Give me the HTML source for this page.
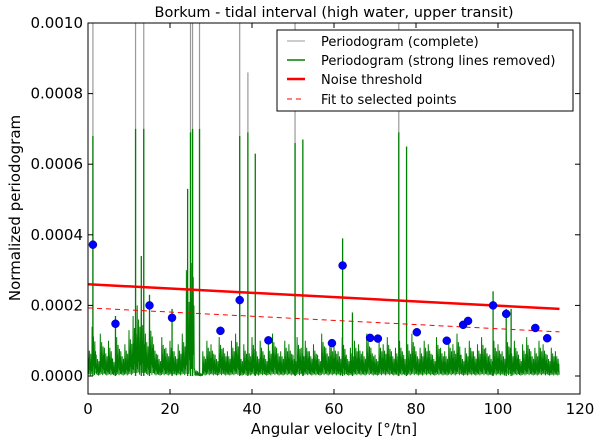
<!DOCTYPE html>
<html><head><meta charset="utf-8"><style>
body{margin:0;background:#fff;font-family:"DejaVu Sans","Liberation Sans",sans-serif;}
svg text{font-family:"DejaVu Sans","Liberation Sans",sans-serif;}
</style></head><body>
<svg id="chart" width="600" height="441" viewBox="0 0 600 441">
<defs><clipPath id="clip"><rect x="88" y="23" width="492" height="371"/></clipPath></defs>
<rect width="600" height="441" fill="#fff"/>
<text x="334" y="17" text-anchor="middle" font-size="14.5">Borkum - tidal interval (high water, upper transit)</text>
<g id="plot" clip-path="url(#clip)"></g>
<rect x="88" y="23" width="492" height="371" fill="none" stroke="#000" stroke-width="1"/>
<g id="axes"></g>
<text x="334" y="434" text-anchor="middle" font-size="15">Angular velocity [°/tn]</text>
<text transform="translate(20,208) rotate(-90)" text-anchor="middle" font-size="15">Normalized periodogram</text>
<g>
<rect x="277" y="30" width="296" height="81" fill="#fff" stroke="#000" stroke-width="1"/>
<line x1="287" y1="41" x2="305" y2="41" stroke="#999" stroke-width="1"/>
<text x="321" y="46" font-size="13">Periodogram (complete)</text>
<line x1="287" y1="60" x2="305" y2="60" stroke="#008000" stroke-width="1.5"/>
<text x="321" y="65" font-size="13">Periodogram (strong lines removed)</text>
<line x1="287" y1="79" x2="305" y2="79" stroke="#f00" stroke-width="2.5"/>
<text x="321" y="84" font-size="13">Noise threshold</text>
<line x1="287" y1="99" x2="305" y2="99" stroke="#f00" stroke-width="1" stroke-dasharray="5,4"/>
<text x="321" y="104" font-size="13">Fit to selected points</text>
</g>
</svg>
<script>
// data (periodogram in units of 1e-5)
const noise = [9,14,6,12,8,10,5,11,7,9,13,17,20,18,12,16,9,6,11,8,10,7,9,12,30,40,2,1,7,10,9,6,11,8,7,10,12,6,9,8,11,7,10,6,9,12,8,7,10,9,6,11,8,10,7,9,6,12,8,10,9,7,11,6,8,10,9,7,12,8,6,10,9,11,7,8,10,6,9,12,7,8,10,9,6,11,8,7,10,9,12,6,8,10,7,9,11,8,6,10,9,7,12,8,10,6,9,11,7,8,10,9,6,8,7];
const greenSpikeX = [1.2,11.6,13.0,13.6,24.3,25.0,25.5,27.2,37.0,39.0,40.8,50.5,52.4,62.1,64.5,75.8,77.7,98.8,102,103.2,6.7,15,20.5];
const greenSpikeY = [68,70,34,70,53,69,70,70,68,69,63,66,67,39,18,69,65,24,19,19,17,23,19];
const graySpikeX = [1.2,11.6,13.6,25.0,25.5,27.2,37.0,39.0,50.5,75.8];
const graySpikeY = [200,200,200,200,200,200,200,86,200,200];
const pointX = [1.2,6.7,15,20.5,32.3,37,44,59.5,62.1,68.8,70.7,80.2,87.5,91.5,92.7,98.8,102,109.1,112];
const pointY = [37.2,14.8,20,16.5,12.8,21.5,10.1,9.3,31.3,10.8,10.6,12.4,10,14.5,15.6,20,17.6,13.6,10.7];
const threshold = [26, 19];
const fitLine = [19.3, 12.5];
const lineRange = [0, 115];
const xTicks = [0,20,40,60,80,100,120];
const yTicks = [0,20,40,60,80,100];
const yTickLabels = ["0.0000","0.0002","0.0004","0.0006","0.0008","0.0010"];

const X = v => 88 + v*492/120;
const Y = v => 376 - v*353/100;
const NS="http://www.w3.org/2000/svg";
const plot=document.getElementById('plot'), axes=document.getElementById('axes');
function mk(tag,attrs,parent){const e=document.createElementNS(NS,tag);for(const k in attrs)e.setAttribute(k,attrs[k]);parent.appendChild(e);return e;}

graySpikeX.forEach((x,i)=>{
  const l=mk('line',{x1:X(x),x2:X(x),y1:Y(0),y2:Y(graySpikeY[i]),stroke:'#999','stroke-width':1.2},plot);
  
  
});
// green noise: dense zigzag shaped from each noise value
const shape=[1,0.1,0.55,0.05,0.8,0.2,0.4,0.02,0.7,0.15,0.5,0.05];
let pts=[];
noise.forEach((v,i)=>{shape.forEach((s,k)=>{pts.push(X(i+k/shape.length)+','+Y(v*s));});});
const pl=mk('polyline',{points:pts.join(' '),fill:'none',stroke:'#008000','stroke-width':1},plot);


greenSpikeX.forEach((x,i)=>{
  const l=mk('line',{x1:X(x),x2:X(x),y1:Y(0),y2:Y(greenSpikeY[i]),stroke:'#008000','stroke-width':1.3},plot);
  
  
});
const t=mk('line',{x1:X(lineRange[0]),x2:X(lineRange[1]),y1:Y(threshold[0]),y2:Y(threshold[1]),stroke:'#f00','stroke-width':2.5},plot);


const f=mk('line',{x1:X(lineRange[0]),x2:X(lineRange[1]),y1:Y(fitLine[0]),y2:Y(fitLine[1]),stroke:'#f00','stroke-width':1,'stroke-dasharray':'5,4'},plot);


pointX.forEach((x,i)=>{
  const c=mk('circle',{cx:X(x),cy:Y(pointY[i]),r:4,fill:'#0000ff',stroke:'#00008b','stroke-width':0.5},plot);
  
  
});
xTicks.forEach(v=>{
  mk('line',{x1:X(v),x2:X(v),y1:394,y2:389,stroke:'#000'},axes);
  mk('line',{x1:X(v),x2:X(v),y1:23,y2:28,stroke:'#000'},axes);
  const tx=mk('text',{x:X(v),y:414,'text-anchor':'middle','font-size':15},axes);
  tx.textContent=v;
  
  
});
yTicks.forEach((v,i)=>{
  mk('line',{x1:88,x2:93,y1:Y(v),y2:Y(v),stroke:'#000'},axes);
  mk('line',{x1:580,x2:575,y1:Y(v),y2:Y(v),stroke:'#000'},axes);
  const tx=mk('text',{x:83,y:Y(v)+5,'text-anchor':'end','font-size':15},axes);
  tx.textContent=yTickLabels[i];
  
  
});
</script>
</body></html>
